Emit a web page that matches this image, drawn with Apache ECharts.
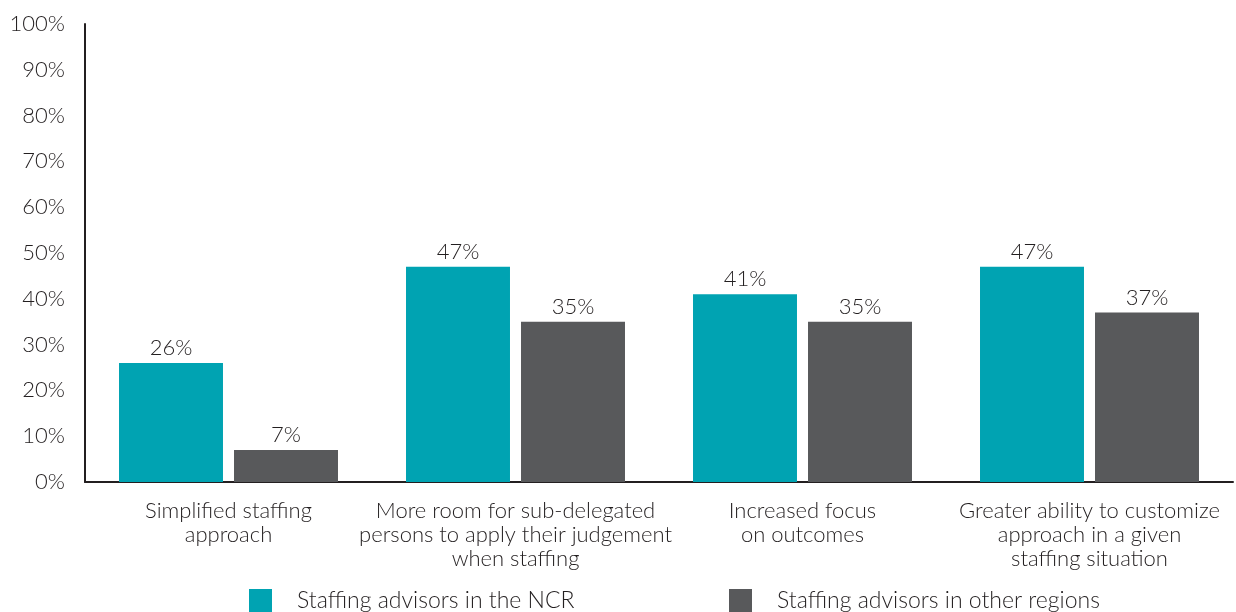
<!DOCTYPE html>
<html>
<head>
<meta charset="utf-8">
<script src="https://cdn.jsdelivr.net/npm/echarts@6/dist/echarts.min.js"></script>
<style>html,body{margin:0;padding:0;background:#fff;}#c{width:1236px;height:612px;}</style>
</head>
<body>
<div id="c"></div>
<script>
const categories = [
  "Simplified staffing\napproach",
  "More room for sub-delegated\npersons to apply their judgement\nwhen staffing",
  "Increased focus\non outcomes",
  "Greater ability to customize\napproach in a given\nstaffing situation"
];
const ncrValues = [26, 47, 41, 47];
const otherValues = [7, 35, 35, 37];
const seriesNames = ["Staffing advisors in the NCR", "Staffing advisors in other regions"];
const yTicks = [0, 10, 20, 30, 40, 50, 60, 70, 80, 90, 100];

const font = "Lato";
const textColor = "#231F20";
const legendBase = {
  bottom: 0, padding: 0, itemWidth: 23, itemHeight: 23, icon: 'rect',
  textStyle: {fontFamily: font, fontSize: 23, color: textColor, fontWeight: 300, padding: [0, 0, 0, 20]}
};
const chart = echarts.init(document.getElementById('c'), null, {renderer: 'canvas'});
chart.setOption({
  animation: false,
  textStyle: {fontFamily: font, color: textColor},
  grid: {left: 85, right: 3, top: 24, bottom: 130},
  legend: [
    Object.assign({left: 249, data: [seriesNames[0]]}, legendBase),
    Object.assign({left: 729, data: [seriesNames[1]]}, legendBase)
  ],
  xAxis: {
    type: 'category',
    data: categories,
    axisLine: {lineStyle: {color: '#231F20', width: 2}},
    axisTick: {show: false},
    axisLabel: {fontFamily: font, fontSize: 22, lineHeight: 24, color: textColor, margin: 17, interval: 0, fontWeight: 300}
  },
  yAxis: {
    type: 'value', min: 0, max: 100, interval: 10,
    axisLine: {show: true, lineStyle: {color: '#231F20', width: 2}},
    axisTick: {show: false},
    splitLine: {show: false},
    axisLabel: {fontFamily: font, fontSize: 22, color: textColor, margin: 20, fontWeight: 300,
      formatter: v => yTicks.includes(v) ? v + '%' : ''}
  },
  series: [
    {name: seriesNames[0], type: 'bar', data: ncrValues, barGap: '10.6%', barCategoryGap: '23.7%',
     itemStyle: {color: '#00A3B2'},
     label: {show: true, position: 'top', distance: 4, formatter: '{c}%', fontFamily: font, fontSize: 22, color: textColor, fontWeight: 300}},
    {name: seriesNames[1], type: 'bar', data: otherValues,
     itemStyle: {color: '#58595B'},
     label: {show: true, position: 'top', distance: 4, formatter: '{c}%', fontFamily: font, fontSize: 22, color: textColor, fontWeight: 300}}
  ]
});
</script>
</body>
</html>
